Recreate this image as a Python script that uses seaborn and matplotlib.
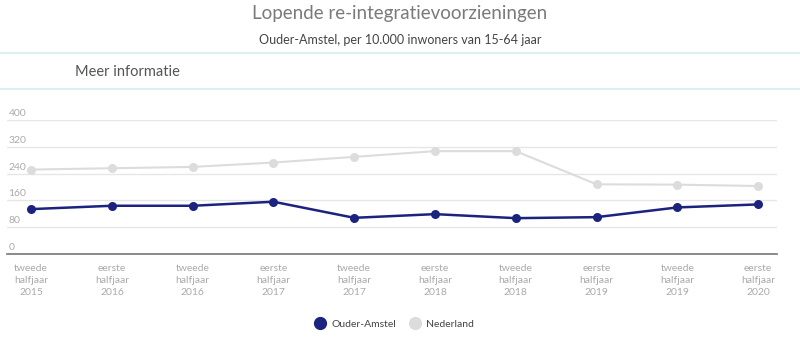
import pandas as pd
import matplotlib
matplotlib.use("Agg")
import matplotlib.pyplot as plt
import matplotlib.lines as mlines
import seaborn as sns

periods = ["tweede\nhalfjaar\n2015", "eerste\nhalfjaar\n2016", "tweede\nhalfjaar\n2016",
           "eerste\nhalfjaar\n2017", "tweede\nhalfjaar\n2017", "eerste\nhalfjaar\n2018",
           "tweede\nhalfjaar\n2018", "eerste\nhalfjaar\n2019", "tweede\nhalfjaar\n2019",
           "eerste\nhalfjaar\n2020"]
ouder_amstel = [134, 144, 144, 156, 108, 119, 107, 110, 139, 148]
nederland = [252, 256, 260, 273, 290, 307, 307, 208, 207, 203]
y_ticks = [0, 80, 160, 240, 320, 400]

series_names = ["Ouder-Amstel", "Nederland"]
colors = {"Ouder-Amstel": "#1b237f", "Nederland": "#dcdcdc"}

df = pd.DataFrame({
    "pos": list(range(len(periods))) * 2,
    "value": ouder_amstel + nederland,
    "gebied": ["Ouder-Amstel"] * len(periods) + ["Nederland"] * len(periods),
})

sns.set_style("white")
plt.rcParams["font.family"] = ["Lato", "DejaVu Sans"]

fig = plt.figure(figsize=(8, 3.53), dpi=100)
ax = fig.add_axes([7 / 800, 1 - 254 / 353, 770 / 800, 134 / 353])

# grey line first so navy sits on top
for name in ["Nederland", "Ouder-Amstel"]:
    sub = df[df["gebied"] == name]
    sns.lineplot(data=sub, x="pos", y="value", ax=ax, color=colors[name],
                 marker="o", markersize=6.5, markeredgewidth=0,
                 linewidth=1.8 if name == "Ouder-Amstel" else 1.5, legend=False)

ax.set_xlim(-0.30, 9.235)
ax.set_ylim(0, 400)
ax.set_xlabel("")
ax.set_ylabel("")
ax.set_yticks(y_ticks)
ax.set_yticklabels([])
ax.tick_params(axis="y", length=0)
ax.grid(axis="y", color="#e6e6e6", linewidth=1)
ax.set_axisbelow(True)
for s in ["top", "right", "left"]:
    ax.spines[s].set_visible(False)
ax.spines["bottom"].set_color("#777777")
ax.spines["bottom"].set_linewidth(1.2)

# y labels sit just above the gridlines, at the left edge
trans = ax.get_yaxis_transform()
for t in y_ticks:
    ax.text(0.002, t + 6, str(t), transform=trans, fontsize=7.5,
            color="#aaaaaa", ha="left", va="bottom")

ax.set_xticks(range(len(periods)))
ax.set_xticklabels(periods, fontsize=7.5, color="#aaaaaa", linespacing=1.45)
ax.tick_params(axis="x", length=0, pad=7)

# header
fig.text(0.5, 1 - 13 / 353, "Lopende re-integratievoorzieningen", ha="center",
         va="center", fontsize=13.5, color="#7a7a7a")
fig.text(0.5, 1 - 40 / 353, "Ouder-Amstel, per 10.000 inwoners van 15-64 jaar",
         ha="center", va="center", fontsize=9, color="#444444")
fig.text(75 / 800, 1 - 72 / 353, "Meer informatie", ha="left", va="center",
         fontsize=10.5, color="#555555")
for yy in [53, 89]:
    fig.add_artist(mlines.Line2D([0, 1], [1 - yy / 353] * 2, color="#dcf0f2",
                                 linewidth=1.5, transform=fig.transFigure))

handles = [mlines.Line2D([], [], color=colors[n], marker="o", linestyle="",
                         markersize=8.5) for n in series_names]
fig.legend(handles, series_names, loc="center", bbox_to_anchor=(0.49, 1 - 324 / 353),
           ncol=2, frameon=False, fontsize=7.5, handletextpad=0.1,
           columnspacing=0.8, labelcolor="#444444")

fig.savefig("out.png", dpi=100)
